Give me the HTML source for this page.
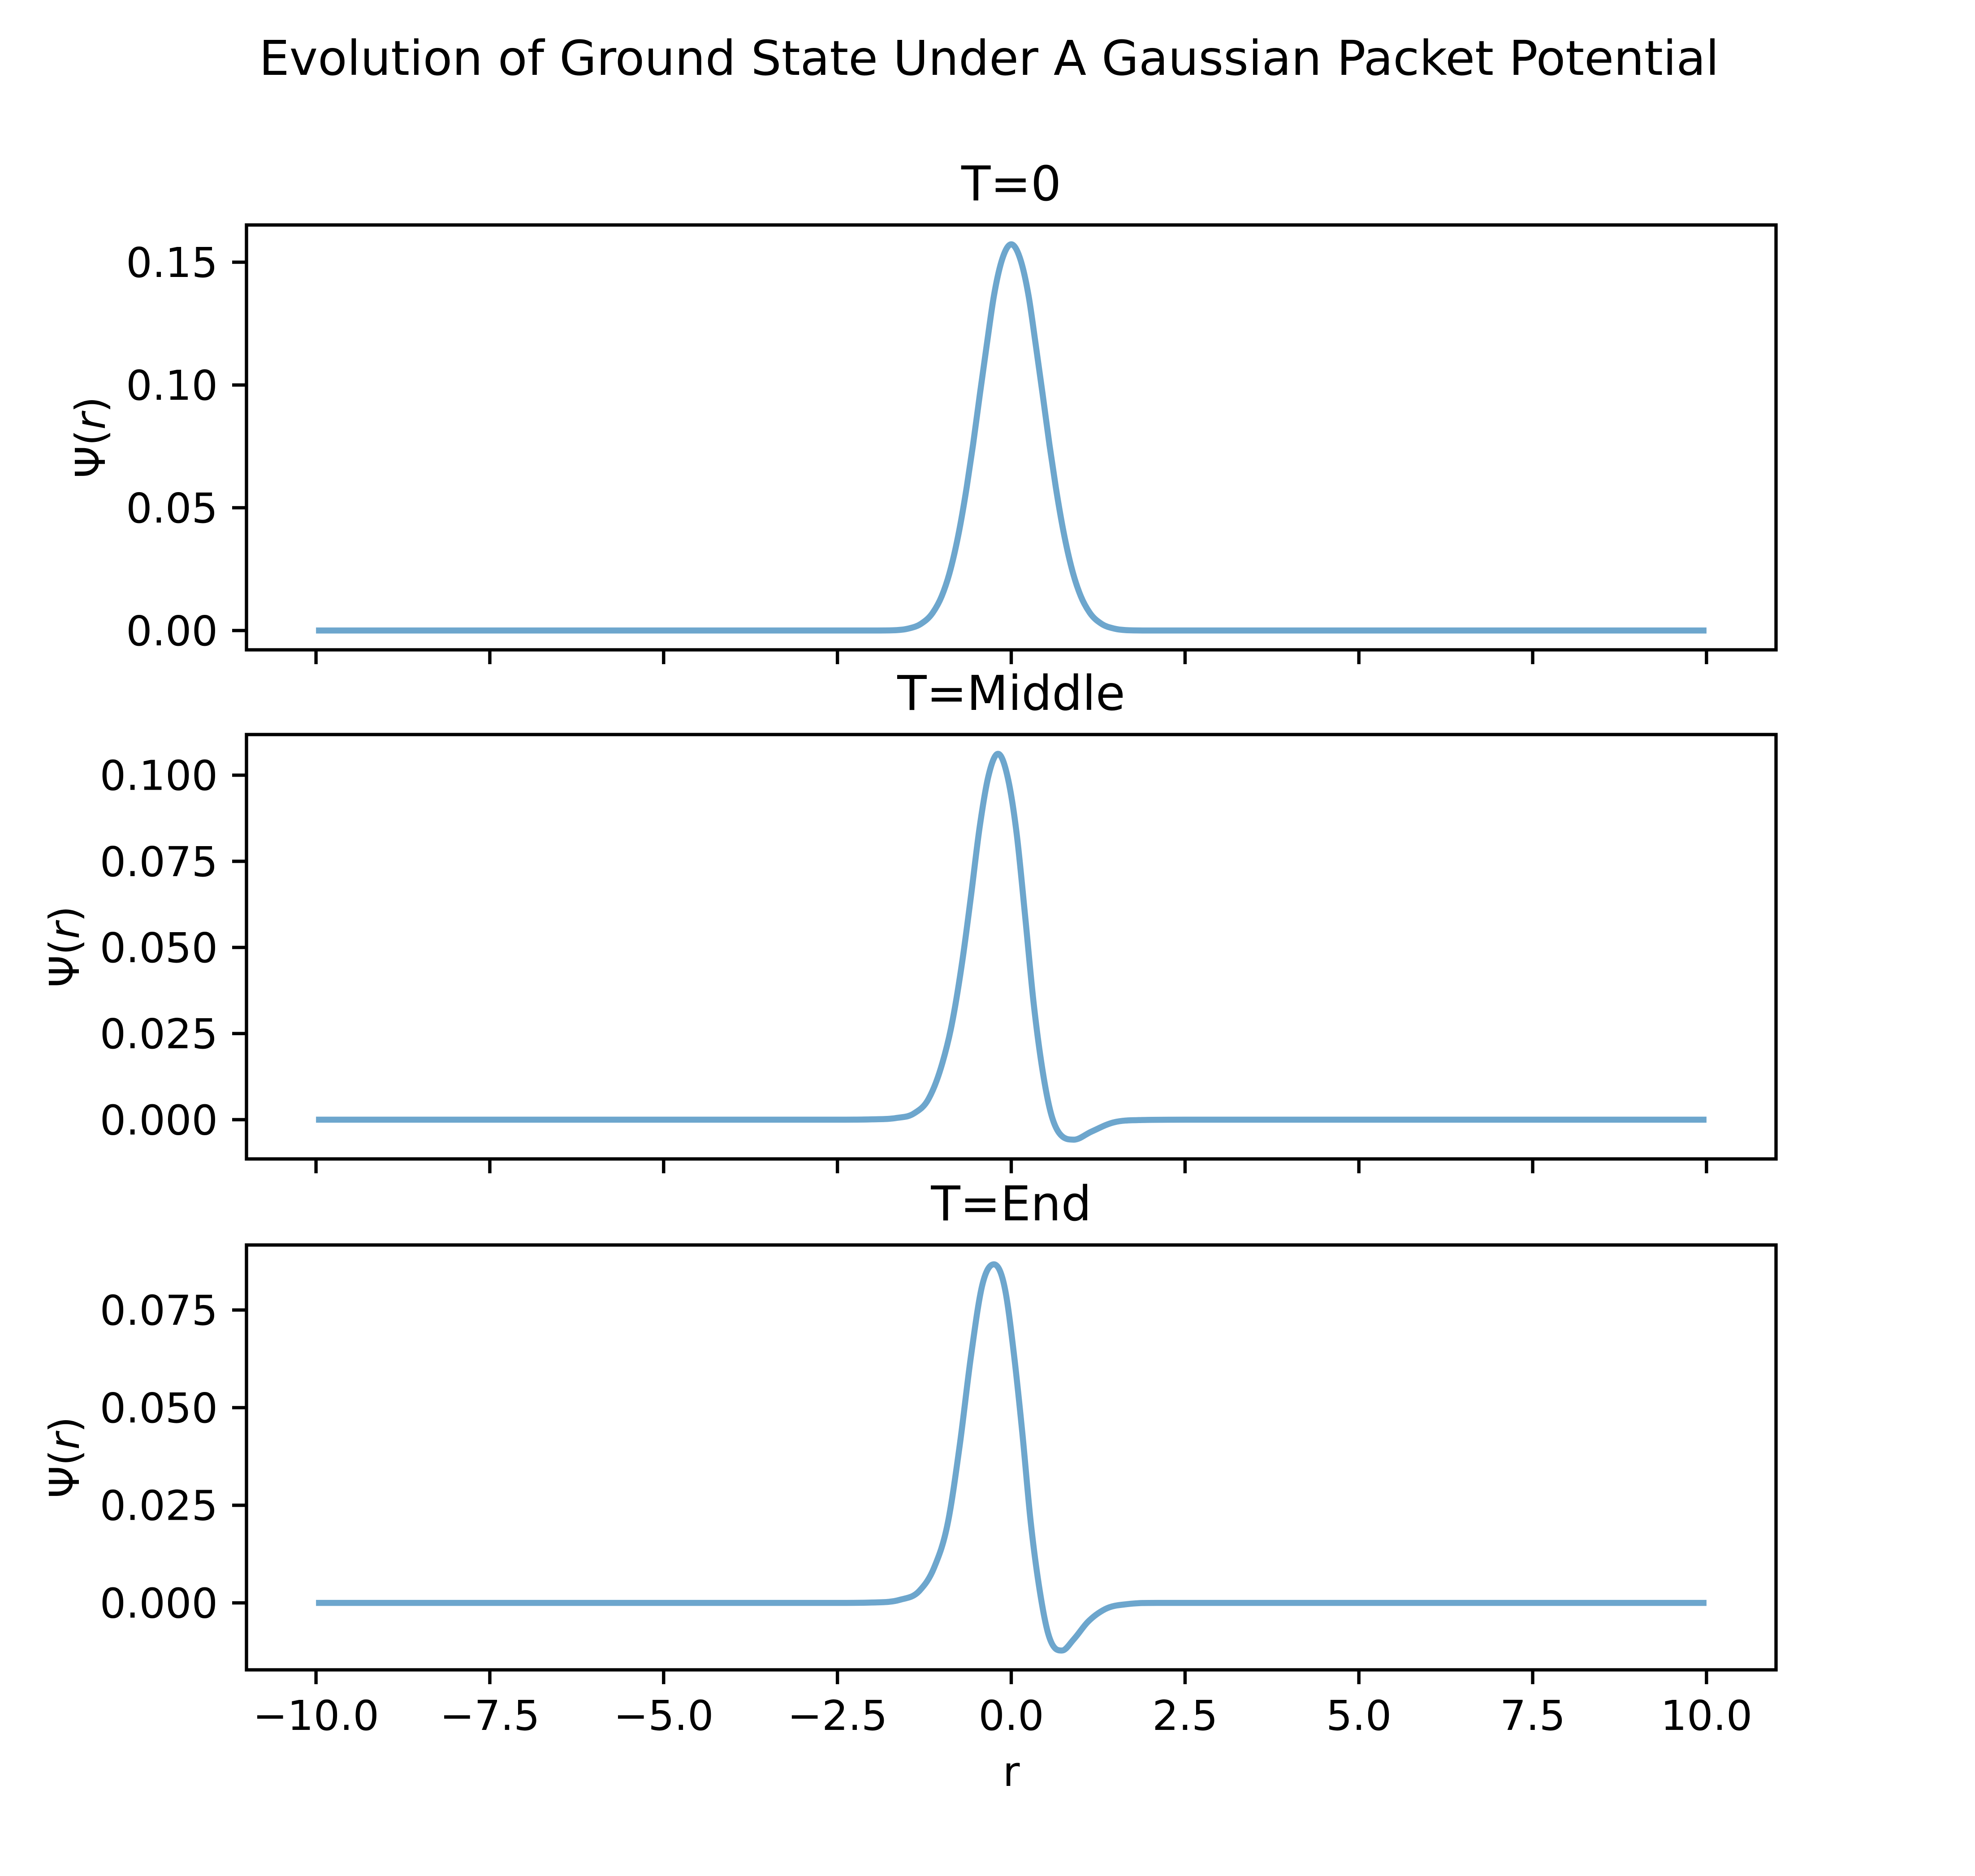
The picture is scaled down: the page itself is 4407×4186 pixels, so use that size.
<!DOCTYPE html>
<html><head><meta charset="utf-8"><style>
html,body{margin:0;padding:0;background:#fff;}
svg{display:block;font-family:"DejaVu Sans","Liberation Sans",sans-serif;}
</style></head><body>
<svg id="chart" width="4407" height="4186" viewBox="0 0 4407 4186" xmlns="http://www.w3.org/2000/svg">
<rect width="4407" height="4186" fill="#fff"/>
<text x="2207" y="167" font-size="107" text-anchor="middle">Evolution of Ground State Under A Gaussian Packet Potential</text>
<g id="plots"></g>
</svg>
<script>
// x-axis ticks shared by all panels
const xTicks = [-10, -7.5, -5, -2.5, 0, 2.5, 5, 7.5, 10];
const xTickLabels = ["\u221210.0", "\u22127.5", "\u22125.0", "\u22122.5", "0.0", "2.5", "5.0", "7.5", "10.0"];

// Panel titles
const panelTitles = ["T=0", "T=Middle", "T=End"];

// T=0 series (r, psi)
const r0 = [-10, -2.5, -2.0, -1.7, -1.48, -1.3, -1.13, -1.0, -0.89, -0.75, -0.64, -0.55, -0.45, -0.35, -0.25, -0.12, 0, 0.12, 0.25, 0.35, 0.45, 0.55, 0.64, 0.75, 0.89, 1.0, 1.13, 1.3, 1.48, 1.7, 2.0, 2.5, 10];
const psi0 = [0, 0, 0.00001, 0.0001, 0.0008, 0.0027, 0.0072, 0.0140, 0.0232, 0.0405, 0.0585, 0.0756, 0.0965, 0.1168, 0.1362, 0.1521, 0.1573, 0.1521, 0.1362, 0.1168, 0.0965, 0.0756, 0.0585, 0.0405, 0.0232, 0.0140, 0.0072, 0.0027, 0.0008, 0.0001, 0.00001, 0, 0];

// T=Middle series
const r1 = [-10, -2.5, -2.0, -1.65, -1.40, -1.19, -0.99, -0.87, -0.70, -0.58, -0.456, -0.33, -0.19, -0.045, 0.078, 0.20, 0.32, 0.45, 0.57, 0.69, 0.90, 1.15, 1.47, 1.88, 2.5, 10];
const psi1 = [0, 0, 0.0001, 0.0005, 0.0018, 0.0060, 0.0165, 0.0262, 0.0466, 0.0648, 0.0847, 0.0996, 0.1062, 0.0988, 0.0830, 0.0590, 0.0342, 0.0143, 0.0019, -0.0039, -0.0058, -0.0035, -0.0008, -0.0001, 0, 0];

// T=End series
const r2 = [-10, -2.5, -2.0, -1.60, -1.32, -1.11, -0.91, -0.74, -0.58, -0.415, -0.25, -0.086, 0.037, 0.16, 0.28, 0.41, 0.53, 0.65, 0.73, 0.90, 1.10, 1.35, 1.68, 2.1, 2.5, 10];
const psi2 = [0, 0, 0.0001, 0.0008, 0.0031, 0.0090, 0.0207, 0.0405, 0.0631, 0.0815, 0.0867, 0.0800, 0.0639, 0.0434, 0.0207, 0.0031, -0.0078, -0.0119, -0.0122, -0.0093, -0.0049, -0.0016, -0.0003, 0, 0, 0];

// y ticks per panel
const yTicks0 = [0, 0.05, 0.10, 0.15];
const yTickLabels0 = ["0.00", "0.05", "0.10", "0.15"];
const yTicks1 = [0, 0.025, 0.05, 0.075, 0.10];
const yTickLabels1 = ["0.000", "0.025", "0.050", "0.075", "0.100"];
const yTicks2 = [0, 0.025, 0.05, 0.075];
const yTickLabels2 = ["0.000", "0.025", "0.050", "0.075"];

const NS = "http://www.w3.org/2000/svg";
const root = document.getElementById('plots');
function mk(tag, attrs, parent) {
  const e = document.createElementNS(NS, tag);
  for (const k in attrs) e.setAttribute(k, attrs[k]);
  (parent || root).appendChild(e);
  return e;
}

const L = 550, R = 3963;
const xMin = -11, xMax = 11;
const xs = v => L + (v - xMin) / (xMax - xMin) * (R - L);

const panels = [
  {top: 502, bot: 1450, rs: r0, ps: psi0, yt: yTicks0, yl: yTickLabels0, ylabX: 201, showX: false},
  {top: 1639, bot: 2586, rs: r1, ps: psi1, yt: yTicks1, yl: yTickLabels1, ylabX: 143, showX: false},
  {top: 2778, bot: 3726, rs: r2, ps: psi2, yt: yTicks2, yl: yTickLabels2, ylabX: 143, showX: true}
];

// monotone cubic Hermite slopes (Fritsch-Carlson style)
function slopes(x, y) {
  const n = x.length, m = new Array(n).fill(0);
  for (let k = 1; k < n - 1; k++) {
    const d0 = (y[k] - y[k-1]) / (x[k] - x[k-1]);
    const d1 = (y[k+1] - y[k]) / (x[k+1] - x[k]);
    if (d0 * d1 <= 0) { m[k] = 0; continue; }
    const h0 = x[k] - x[k-1], h1 = x[k+1] - x[k];
    let s = (d0 * h1 + d1 * h0) / (h0 + h1);
    const lim = 3 * Math.min(Math.abs(d0), Math.abs(d1));
    if (Math.abs(s) > lim) s = Math.sign(s) * lim;
    m[k] = s;
  }
  return m;
}

panels.forEach((p, i) => {
  const g = mk('g', {});
  
  
  let mn = Math.min(...p.ps), mx = Math.max(...p.ps);
  const pad = (mx - mn) * 0.05;
  const y0 = mn - pad, y1 = mx + pad;
  const ys = v => p.bot - (v - y0) / (y1 - y0) * (p.bot - p.top);

  const m = slopes(p.rs, p.ps);
  let d = `M${xs(p.rs[0])},${ys(p.ps[0])}`;
  for (let k = 0; k < p.rs.length - 1; k++) {
    const xa = p.rs[k], xb = p.rs[k+1], h = xb - xa;
    const c1 = [xa + h/3, p.ps[k] + m[k]*h/3];
    const c2 = [xb - h/3, p.ps[k+1] - m[k+1]*h/3];
    d += ` C${xs(c1[0])},${ys(c1[1])} ${xs(c2[0])},${ys(c2[1])} ${xs(xb)},${ys(p.ps[k+1])}`;
  }
  const path = mk('path', {d: d, fill: 'none', stroke: '#6da6cd', 'stroke-width': 13.5, 'stroke-linejoin': 'round'}, g);
  
  

  const frame = mk('rect', {x: L, y: p.top, width: R - L, height: p.bot - p.top, fill: 'none', stroke: '#000', 'stroke-width': 7.4}, g);
  
  

  p.yt.forEach((v, k) => {
    const y = ys(v);
    const t = mk('line', {x1: L - 32, x2: L, y1: y, y2: y, stroke: '#000', 'stroke-width': 7.4}, g);
    
    
    const tl = mk('text', {x: L - 64, y: y + 33, 'font-size': 92, 'text-anchor': 'end'}, g);
    
    
    tl.textContent = p.yl[k];
  });

  xTicks.forEach((v, k) => {
    const x = xs(v);
    const t = mk('line', {x1: x, x2: x, y1: p.bot, y2: p.bot + 32, stroke: '#000', 'stroke-width': 7.4}, g);
    
    
    if (p.showX) {
      const tl = mk('text', {x: x, y: 3860, 'font-size': 92, 'text-anchor': 'middle'}, g);
      
      
      tl.textContent = xTickLabels[k];
    }
  });

  const tt = mk('text', {x: (L + R) / 2, y: p.top - 55, 'font-size': 107, 'text-anchor': 'middle'}, g);
  
  
  tt.textContent = panelTitles[i];

  const cy = (p.top + p.bot) / 2;
  const yl = mk('text', {x: p.ylabX + 33, y: cy, 'font-size': 92, 'text-anchor': 'middle', transform: `rotate(-90 ${p.ylabX + 33} ${cy})`}, g);
  
  
  yl.innerHTML = 'Ψ(<tspan font-style="italic">r</tspan>)';
});

const xl = mk('text', {x: (L + R) / 2, y: 3985, 'font-size': 92, 'text-anchor': 'middle'});


xl.textContent = 'r';
</script>
</body></html>
